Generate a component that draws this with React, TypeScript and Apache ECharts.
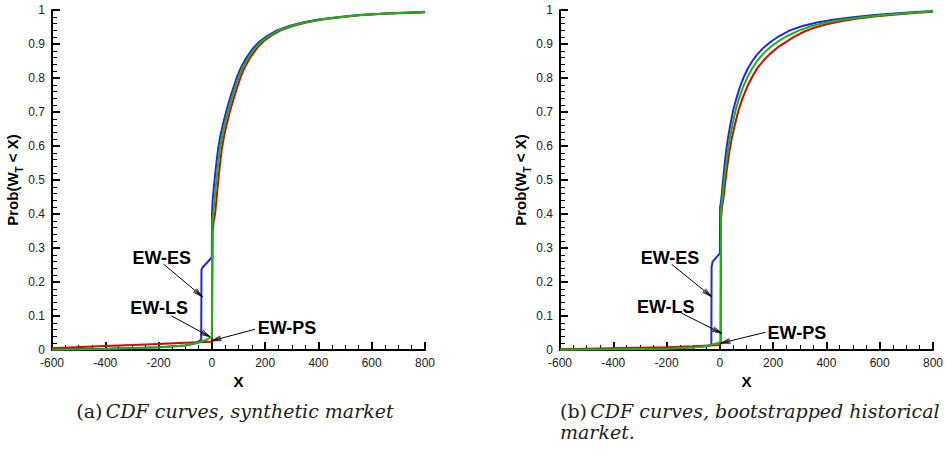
import React, { useEffect, useRef } from "react";
import * as echarts from "echarts";

// ---- Data (X, Prob) ----
const synthES: number[][] = [
  [-600, 0.002], [-400, 0.004], [-200, 0.008], [-100, 0.013], [-60, 0.02], [-40, 0.03],
  [-39, 0.235], [-36, 0.242], [-3, 0.27], [0, 0.275], [0.5, 0.4], [3, 0.44], [7, 0.475],
  [11, 0.505], [17, 0.55], [24, 0.595], [32, 0.63], [42, 0.665], [55, 0.705], [68, 0.74],
  [80, 0.77], [95, 0.805], [110, 0.832], [130, 0.86], [155, 0.888], [180, 0.908], [210, 0.925],
  [244, 0.94], [290, 0.953], [340, 0.963], [400, 0.972], [470, 0.979], [550, 0.985],
  [650, 0.99], [800, 0.995],
];
const synthLS: number[][] = [
  [-600, 0.001], [-400, 0.003], [-200, 0.007], [-100, 0.013], [-50, 0.022], [-20, 0.03],
  [0, 0.04], [2, 0.38], [5, 0.4], [10, 0.44], [14, 0.475], [18, 0.505], [24, 0.55],
  [31, 0.595], [39, 0.63], [49, 0.665], [62, 0.705], [75, 0.74], [87, 0.77], [102, 0.805],
  [117, 0.832], [137, 0.86], [162, 0.888], [187, 0.908], [217, 0.925], [251, 0.94],
  [297, 0.953], [347, 0.963], [407, 0.972], [477, 0.979], [557, 0.985], [657, 0.99], [800, 0.994],
];
const synthPS: number[][] = [
  [-600, 0.005], [-400, 0.012], [-200, 0.018], [-100, 0.021], [0, 0.024], [3, 0.35],
  [7, 0.38], [12, 0.4], [17, 0.44], [21, 0.475], [25, 0.505], [31, 0.55], [38, 0.595],
  [46, 0.63], [56, 0.665], [69, 0.705], [82, 0.74], [94, 0.77], [109, 0.805], [124, 0.832],
  [144, 0.86], [169, 0.888], [194, 0.908], [224, 0.925], [258, 0.94], [304, 0.953],
  [354, 0.963], [414, 0.972], [484, 0.979], [564, 0.985], [664, 0.99], [800, 0.993],
];

const histES: number[][] = [
  [-600, 0.002], [-400, 0.003], [-200, 0.005], [-100, 0.008], [-40, 0.012], [-32, 0.015],
  [-31, 0.245], [-27, 0.26], [0, 0.284], [1, 0.42], [3, 0.43], [6.5, 0.45], [11, 0.49],
  [16, 0.53], [22, 0.575], [30, 0.62], [40, 0.665], [50, 0.705], [62, 0.74], [76, 0.775],
  [90, 0.803], [105, 0.828], [122, 0.85], [142, 0.871], [165, 0.89], [190, 0.906],
  [220, 0.922], [263, 0.94], [310, 0.953], [365, 0.963], [425, 0.971], [500, 0.979],
  [580, 0.985], [680, 0.991], [800, 0.997],
];
const histLS: number[][] = [
  [-600, 0.001], [-400, 0.002], [-200, 0.004], [-100, 0.007], [-50, 0.012], [-20, 0.018],
  [0, 0.022], [3, 0.025], [4, 0.4], [6, 0.42], [7, 0.43], [10, 0.45], [15, 0.49], [21, 0.53],
  [28, 0.575], [37, 0.62], [48, 0.665], [59, 0.705], [72, 0.74], [88, 0.775], [104, 0.803],
  [121, 0.828], [140, 0.85], [162, 0.871], [188, 0.89], [216, 0.906], [249, 0.922],
  [298, 0.94], [345, 0.953], [400, 0.963], [460, 0.971], [535, 0.979], [615, 0.985],
  [710, 0.991], [800, 0.996],
];
const histPS: number[][] = [
  [-600, 0.002], [-400, 0.005], [-200, 0.008], [-100, 0.011], [0, 0.015], [3, 0.02],
  [4, 0.38], [8, 0.42], [10, 0.43], [14, 0.45], [20, 0.49], [26, 0.53], [34, 0.575],
  [44, 0.62], [57, 0.665], [70, 0.705], [85, 0.74], [103, 0.775], [121, 0.803], [140, 0.828],
  [162, 0.85], [188, 0.871], [217, 0.89], [249, 0.906], [280, 0.922], [315, 0.936],
  [355, 0.948], [400, 0.958], [450, 0.966], [510, 0.974], [580, 0.981], [660, 0.987],
  [730, 0.991], [800, 0.995],
];

const seriesNames = ["EW-ES", "EW-PS", "EW-LS"];
const seriesColors = ["#2222ff", "#e00000", "#10bb10"];

// annotations: [grid, label, textX, textY, tailX, tailY, tipX, tipY]
const annotations: (number | string)[][] = [
  [0, "EW-ES", -188, 0.27, -182, 0.253, -36, 0.157],
  [0, "EW-LS", -198, 0.124, -151, 0.1, -7, 0.039],
  [0, "EW-PS", 282, 0.065, 162, 0.061, -1, 0.027],
  [1, "EW-ES", -187, 0.27, -181, 0.252, -31, 0.157],
  [1, "EW-LS", -203, 0.127, -143, 0.108, 7, 0.049],
  [1, "EW-PS", 289, 0.049, 171, 0.052, 3, 0.02],
];

const xTicks = { min: -600, max: 800, interval: 200 };
const yTicks = { min: 0, max: 1, interval: 0.1 };

const FONT = "'Liberation Sans', Arial, Helvetica, sans-serif";
const SERIF = "'DejaVu Serif', serif";

export default function App() {
  const ref = useRef<HTMLDivElement>(null);
  useEffect(() => {
    if (!ref.current) return;
    const chart = echarts.init(ref.current, null, { renderer: "svg" });

    const grids = [
      { left: 52, top: 10, width: 373, height: 340 },
      { left: 560, top: 10, width: 373, height: 340 },
    ];
    const mkX = (i: number) => ({
      type: "value",
      gridIndex: i,
      min: xTicks.min,
      max: xTicks.max,
      interval: xTicks.interval,
      name: "X",
      nameLocation: "middle",
      nameGap: 15,
      nameTextStyle: { fontFamily: FONT, fontWeight: "bold", fontSize: 15, color: "#000" },
      axisLine: { onZero: false, lineStyle: { color: "#000", width: 2 } },
      axisTick: { inside: true, length: 8, lineStyle: { color: "#000", width: 2 } },
      minorTick: { show: true, splitNumber: 4, length: 5, lineStyle: { color: "#000", width: 1 } },
      axisLabel: { margin: 7, fontFamily: FONT, fontSize: 12, lineHeight: 12, color: "#222" },
      splitLine: { show: false },
    });
    const mkY = (i: number) => ({
      type: "value",
      gridIndex: i,
      min: yTicks.min,
      max: yTicks.max,
      interval: yTicks.interval,
      name: "{a|Prob(W}{s|T}{a| < X)}",
      nameLocation: "middle",
      nameGap: 25,
      nameTextStyle: {
        rich: {
          a: { fontFamily: FONT, fontWeight: "bold", fontSize: 15, color: "#000", verticalAlign: "bottom", padding: [0, 0, 4, 0] },
          s: { fontFamily: FONT, fontWeight: "bold", fontSize: 10, color: "#000", verticalAlign: "bottom" },
        },
      },
      axisLine: { onZero: false, lineStyle: { color: "#000", width: 2 } },
      axisTick: { inside: true, length: 8, lineStyle: { color: "#000", width: 2 } },
      minorTick: { show: true, splitNumber: 5, length: 5, lineStyle: { color: "#000", width: 1 } },
      axisLabel: { margin: 7, fontFamily: FONT, fontSize: 12, lineHeight: 12, color: "#222" },
      splitLine: { show: false },
    });

    const sets = [
      [synthES, synthPS, synthLS],
      [histES, histPS, histLS],
    ];
    const series: any[] = [];
    sets.forEach((set, gi) => {
      set.forEach((d, k) => {
        series.push({
          type: "line",
          name: seriesNames[k],
          xAxisIndex: gi,
          yAxisIndex: gi,
          data: d,
          showSymbol: false,
          symbol: "none",
          smooth: false,
          lineStyle: { color: seriesColors[k], width: 2 },
          z: 2 + k,
        });
      });
    });

    chart.setOption({
      animation: false,
      grid: grids,
      xAxis: [mkX(0), mkX(1)],
      yAxis: [mkY(0), mkY(1)],
      series,
    });

    const graphic: any[] = [];
    annotations.forEach((a) => {
      const gi = a[0] as number;
      const label = a[1] as string;
      const t = chart.convertToPixel({ gridIndex: gi }, [a[2] as number, a[3] as number]) as number[];
      const s = chart.convertToPixel({ gridIndex: gi }, [a[4] as number, a[5] as number]) as number[];
      const p = chart.convertToPixel({ gridIndex: gi }, [a[6] as number, a[7] as number]) as number[];
      graphic.push({
        type: "text",
        x: t[0],
        y: t[1],
        style: {
          text: label,
          fontFamily: FONT,
          fontWeight: "bold",
          fontSize: 18,
          fill: "#000",
          align: "center",
          verticalAlign: "middle",
        },
        z: 10,
      });
      graphic.push({
        type: "line",
        shape: { x1: s[0], y1: s[1], x2: p[0], y2: p[1] },
        style: { stroke: "#000", lineWidth: 1 },
        z: 10,
      });
      const dx = p[0] - s[0];
      const dy = p[1] - s[1];
      const len = Math.sqrt(dx * dx + dy * dy);
      const ux = dx / len;
      const uy = dy / len;
      const L = 10;
      [0.25, -0.25, 0.12, -0.12].forEach((th) => {
        const c = Math.cos(th);
        const sn = Math.sin(th);
        const rx = ux * c - uy * sn;
        const ry = ux * sn + uy * c;
        graphic.push({
          type: "line",
          shape: { x1: p[0], y1: p[1], x2: p[0] - L * rx, y2: p[1] - L * ry },
          style: { stroke: "#000", lineWidth: 0.8 },
          z: 10,
        });
      });
    });

    const capRich = {
      n: { fontFamily: SERIF, fontSize: 19, fill: "#222", color: "#222" },
      i: { fontFamily: SERIF, fontStyle: "italic", fontSize: 19, fill: "#222", color: "#222" },
    };
    graphic.push({
      type: "text",
      x: 235,
      y: 411,
      style: {
        text: "{n|(a)} {i|CDF curves, synthetic market}",
        align: "center",
        verticalAlign: "middle",
        rich: capRich,
      },
    });
    graphic.push({
      type: "text",
      x: 560,
      y: 411,
      style: {
        text: "{n|(b)} {i|CDF curves, bootstrapped historical}",
        align: "left",
        verticalAlign: "middle",
        rich: capRich,
      },
    });
    graphic.push({
      type: "text",
      x: 560,
      y: 432,
      style: {
        text: "{i|market.}",
        align: "left",
        verticalAlign: "middle",
        rich: capRich,
      },
    });

    chart.setOption({ graphic });

    return () => chart.dispose();
  }, []);

  return (
    <div
      ref={ref}
      style={{ position: "absolute", left: 0, top: 0, width: 946, height: 461, background: "#fff" }}
    />
  );
}
